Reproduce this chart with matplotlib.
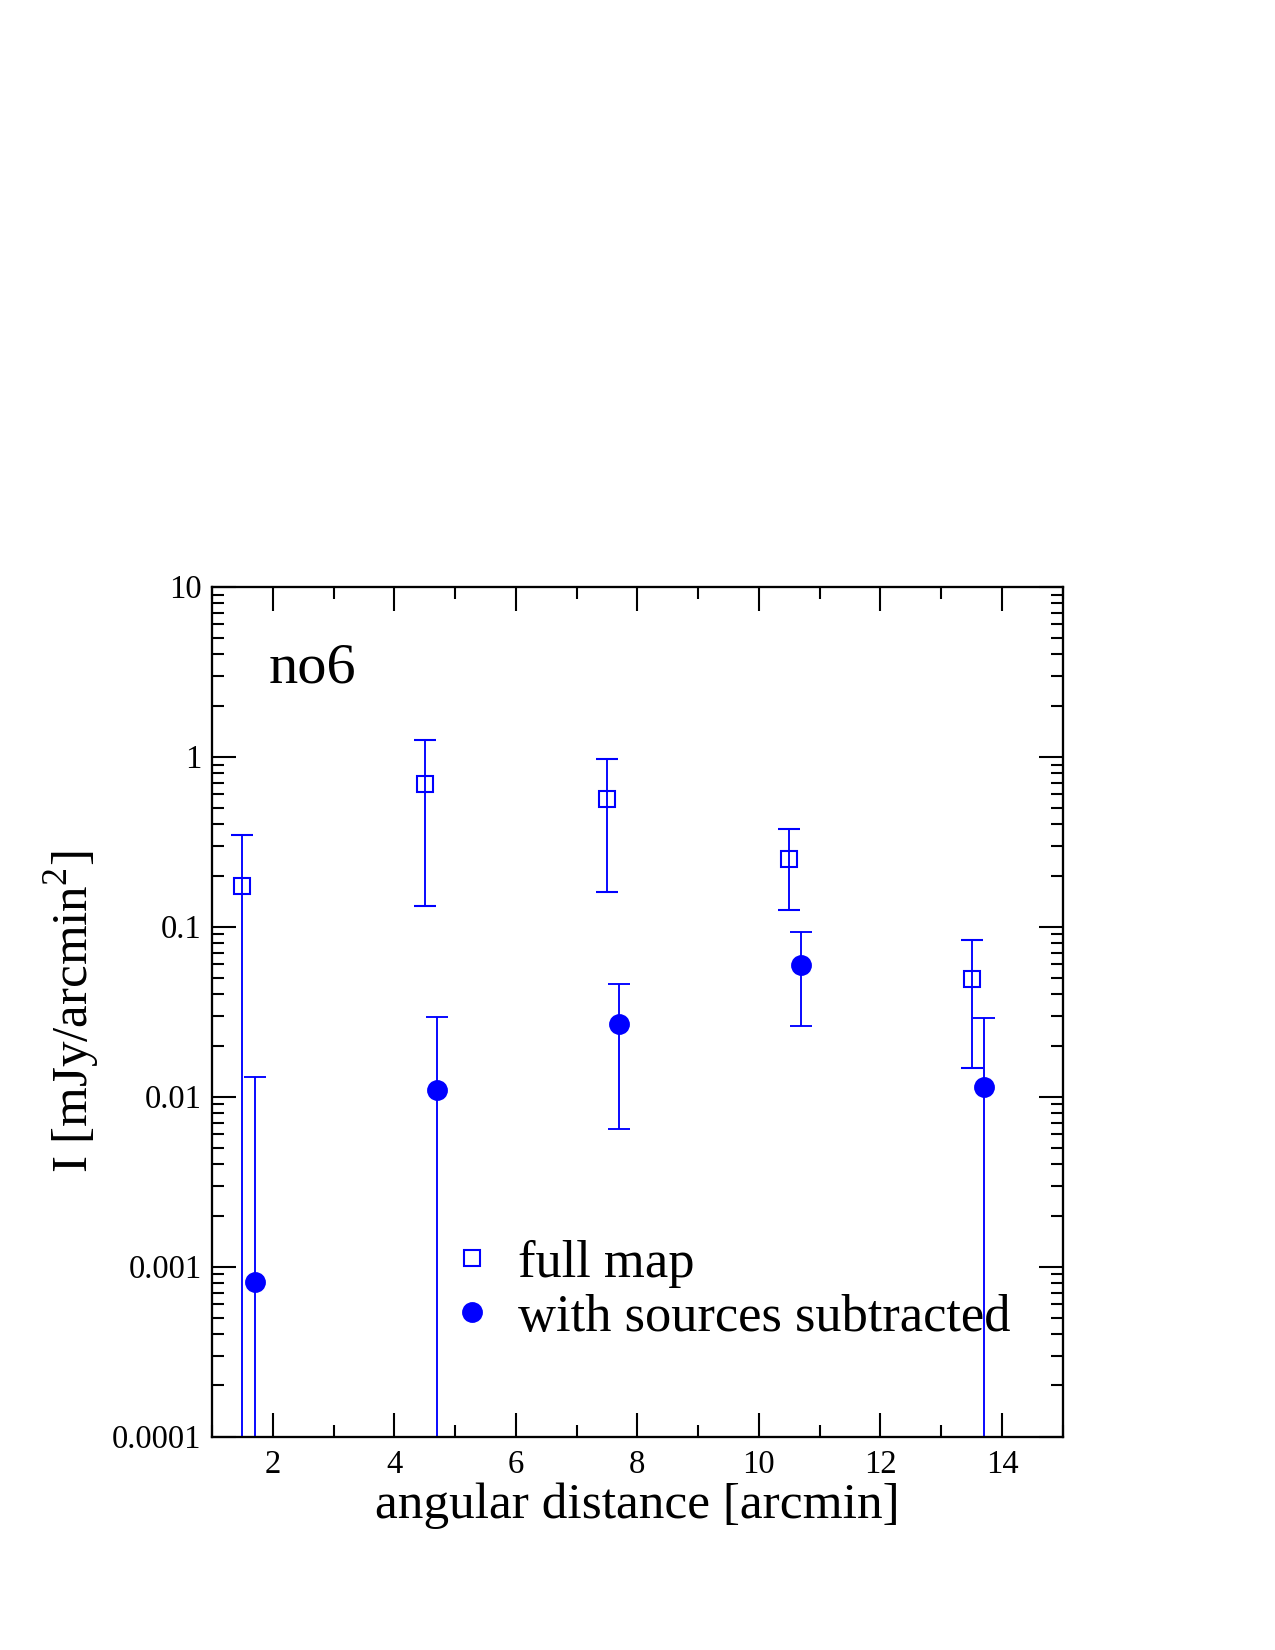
#!/usr/bin/env python3
import numpy as np
import matplotlib
matplotlib.use("Agg")
import matplotlib.pyplot as plt
from matplotlib.lines import Line2D
from matplotlib.ticker import MultipleLocator, LogLocator, NullFormatter, FixedLocator, FixedFormatter

plt.rcParams['font.family'] = ['Liberation Serif', 'DejaVu Serif']
plt.rcParams['mathtext.fontset'] = 'custom'
plt.rcParams['mathtext.rm'] = 'Liberation Serif'

# full map (value, upper end, lower end of the error bar)
r_full = [1.5, 4.5, 7.5, 10.5, 13.5]
I_full = [0.174, 0.69, 0.567, 0.25, 0.049]
I_full_hi = [0.346, 1.25, 0.976, 0.374, 0.0836]
I_full_lo = [1e-6, 0.132, 0.16, 0.126, 0.0148]

# with sources subtracted
r_sub = [1.7, 4.7, 7.7, 10.7, 13.7]
I_sub = [0.000817, 0.011, 0.0266, 0.0596, 0.0114]
I_sub_hi = [0.013, 0.0293, 0.0462, 0.0927, 0.0292]
I_sub_lo = [1e-6, 1e-6, 0.00645, 0.026, 1e-6]

ytick_vals = [1e-4, 1e-3, 1e-2, 1e-1, 1, 10]
ytick_labels = ['0.0001', '0.001', '0.01', '0.1', '1', '10']

blue = '#0000ff'

fig = plt.figure(figsize=(8.5, 11), dpi=150)
ax = fig.add_axes([0.1663, 0.1293, 0.6672, 0.5151])

def err(v, hi, lo):
    v, hi, lo = np.array(v), np.array(hi), np.array(lo)
    return np.vstack([v - lo, hi - v])

ax.errorbar(r_full, I_full, yerr=err(I_full, I_full_hi, I_full_lo), fmt='s',
            ms=7.5, mfc='none', mec=blue, mew=1.0, color=blue, ecolor=blue,
            elinewidth=0.9, capsize=5.5, capthick=0.9)
ax.errorbar(r_sub, I_sub, yerr=err(I_sub, I_sub_hi, I_sub_lo), fmt='o',
            ms=9, mfc=blue, mec=blue, color=blue, ecolor=blue,
            elinewidth=0.9, capsize=5.5, capthick=0.9)

ax.set_yscale('log')
ax.set_xlim(1, 15)
ax.set_ylim(1e-4, 10)

ax.xaxis.set_major_locator(MultipleLocator(2))
ax.xaxis.set_minor_locator(MultipleLocator(1))
ax.set_xticks([2, 4, 6, 8, 10, 12, 14])
ax.yaxis.set_major_locator(FixedLocator(ytick_vals))
ax.yaxis.set_major_formatter(FixedFormatter(ytick_labels))
ax.yaxis.set_minor_locator(LogLocator(base=10, subs=np.arange(2, 10), numticks=20))
ax.yaxis.set_minor_formatter(NullFormatter())

ax.tick_params(which='both', direction='in', top=True, right=True, width=1.0)
ax.tick_params(which='major', length=11.5, labelsize=15.7)
ax.tick_params(which='minor', length=5.8)
ax.tick_params(axis='x', which='major', pad=6)
ax.tick_params(axis='y', which='major', pad=5)
for s in ax.spines.values():
    s.set_linewidth(1.1)

ax.set_xlabel('angular distance [arcmin]', fontsize=24.7, labelpad=1.5)
ax.set_ylabel(r'I [mJy/arcmin$^2$]', fontsize=24.5, labelpad=5)

ax.text(0.066, 0.887, 'no6', transform=ax.transAxes, fontsize=28)

handles = [
    Line2D([], [], marker='s', ls='none', ms=7.5, mfc='none', mec=blue, mew=1.0),
    Line2D([], [], marker='o', ls='none', ms=9, mfc=blue, mec=blue),
]
leg = ax.legend(handles, ['full map', 'with sources subtracted'],
                loc='upper left', bbox_to_anchor=(0.275, 0.232), frameon=False,
                fontsize=25.2, handlelength=1.0, handletextpad=0.38,
                labelspacing=0.12, borderaxespad=0, borderpad=0)

fig.savefig('out.png', dpi=150)
